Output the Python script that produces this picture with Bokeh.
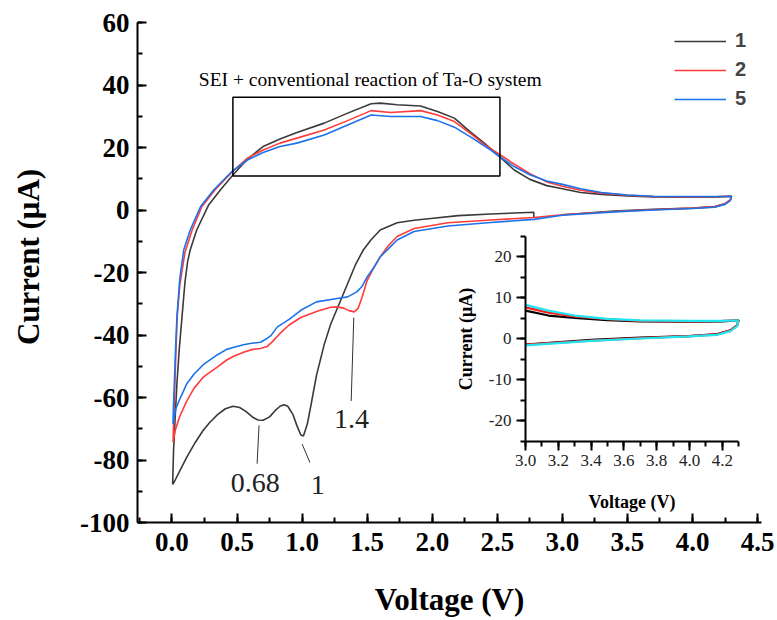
import math
from bokeh.plotting import figure
from bokeh.models import (Range1d, LinearAxis, SingleIntervalTicker, Legend, LegendItem,
                          Label, PrintfTickFormatter)
from bokeh.embed import file_html
from bokeh.resources import INLINE

# ---------------- data (voltage V, current uA) ----------------
cycle_labels = ["1", "2", "5"]

# cycle 1: starts at OCV (~2.78 V), cathodic to 0.01 V, anodic to 4.3 V, back to 3.0 V
v1 = [2.78, 2.78, 2.45, 2.20, 1.99, 1.86, 1.73, 1.60, 1.53, 1.47, 1.41, 1.35, 1.29, 1.22, 1.17,
      1.11, 1.07, 1.04, 1.01, 0.99, 0.96, 0.93, 0.89, 0.86, 0.83, 0.79, 0.75, 0.70, 0.66, 0.62,
      0.57, 0.52, 0.47, 0.41, 0.35, 0.29, 0.24, 0.18, 0.115, 0.06, 0.02, 0.005,
      0.012, 0.025, 0.038, 0.055, 0.077, 0.10, 0.12, 0.14, 0.19, 0.28, 0.37, 0.46, 0.58, 0.70,
      0.83, 0.96, 1.17, 1.35, 1.53, 1.60, 1.73, 1.91, 2.04, 2.17, 2.29, 2.40, 2.53, 2.63, 2.75,
      2.88, 3.0, 3.14, 3.3, 3.5, 3.7, 4.0, 4.2, 4.3,
      4.29, 4.25, 4.17, 4.0, 3.7, 3.4, 3.0]
i1 = [-2.4, -0.7, -1.3, -1.8, -2.7, -3.3, -4.1, -6.4, -9.5, -12.8, -17.5, -23.5, -29.5, -36.5, -43.0,
      -53.0, -62.0, -68.5, -72.3, -72.0, -69.0, -65.5, -62.8, -62.3, -62.8, -64.3, -66.2, -67.3, -67.2, -66.3,
      -64.5, -63.2, -62.8, -63.6, -65.5, -68.0, -70.5, -74.3, -79.0, -83.5, -86.8, -87.8,
      -77.0, -66.0, -55.5, -45.0, -34.2, -23.0, -16.5, -12.8, -6.4, 1.5, 6.3, 10.8, 16.3, 20.3,
      22.7, 24.8, 27.8, 31.0, 34.0, 34.2, 33.7, 33.3, 31.5, 29.4, 25.1, 21.4, 16.6, 12.8, 9.8,
      7.8, 6.8, 5.6, 5.0, 4.5, 4.2, 4.1, 4.2, 4.4,
      3.2, 2.0, 1.1, 0.6, 0.2, -0.3, -1.5]

# cycle 2: 4.3 V -> 0.01 V -> 4.3 V
v2 = [4.3, 4.29, 4.25, 4.17, 4.0, 3.7, 3.4, 3.0, 2.78, 2.45, 2.12, 1.86, 1.73, 1.66, 1.60, 1.55,
      1.50, 1.46, 1.43, 1.40, 1.36, 1.32, 1.27, 1.22, 1.12, 0.99, 0.90, 0.83, 0.77, 0.73, 0.68,
      0.62, 0.55, 0.47, 0.42, 0.35, 0.24, 0.17, 0.115, 0.06, 0.025, 0.008,
      0.018, 0.028, 0.04, 0.06, 0.10, 0.155, 0.23, 0.33, 0.46, 0.58, 0.70, 0.83, 0.96, 1.17,
      1.35, 1.53, 1.68, 1.91, 2.04, 2.17, 2.29, 2.40, 2.50, 2.60, 2.75, 2.88, 3.0, 3.14, 3.3,
      3.5, 3.7, 4.0, 4.2, 4.3]
i2 = [4.4, 3.2, 2.0, 1.0, 0.6, 0.1, -0.5, -1.5, -2.4, -3.2, -4.1, -5.9, -8.5, -11.5, -15.0, -18.5,
      -22.5, -28.0, -31.5, -32.6, -32.2, -31.4, -31.0, -31.1, -32.3, -34.4, -36.8, -39.5, -42.2, -43.7, -44.3,
      -44.6, -45.5, -46.9, -48.0, -50.2, -53.5, -57.0, -61.0, -66.0, -70.5, -74.3,
      -62.0, -48.0, -34.2, -24.0, -13.5, -6.4, 1.1, 6.4, 12.1, 16.6, 19.2, 21.4, 23.0, 25.6,
      28.6, 31.8, 31.2, 31.8, 30.4, 28.3, 24.6, 21.0, 18.3, 15.5, 11.6, 9.0, 7.6, 6.3, 5.4,
      4.7, 4.3, 4.2, 4.3, 4.4]

# cycle 5: 4.3 V -> 0.01 V -> 4.3 V
v5 = [4.3, 4.29, 4.25, 4.17, 4.0, 3.7, 3.4, 3.0, 2.78, 2.45, 2.12, 1.86, 1.73, 1.66, 1.60, 1.55,
      1.50, 1.46, 1.42, 1.35, 1.27, 1.11, 0.99, 0.90, 0.81, 0.76, 0.73, 0.68, 0.60, 0.55, 0.47,
      0.42, 0.35, 0.24, 0.17, 0.115, 0.06, 0.03, 0.008,
      0.012, 0.018, 0.028, 0.038, 0.06, 0.09, 0.14, 0.22, 0.32, 0.46, 0.58, 0.70, 0.83, 0.96,
      1.17, 1.35, 1.53, 1.68, 1.91, 2.04, 2.17, 2.29, 2.45, 2.50, 2.63, 2.75, 2.88, 3.0, 3.14,
      3.3, 3.5, 3.7, 4.0, 4.2, 4.3]
i5 = [4.4, 3.0, 1.8, 0.9, 0.5, 0.0, -0.6, -1.7, -3.0, -4.0, -5.1, -6.9, -9.6, -12.5, -15.0, -18.5,
      -21.4, -24.5, -26.2, -27.8, -28.3, -29.4, -32.1, -35.0, -37.4, -40.2, -41.1, -42.3, -42.7, -43.1, -44.0,
      -44.6, -46.3, -49.5, -52.5, -55.5, -60.5, -63.5, -68.4,
      -62.0, -55.5, -44.0, -34.2, -22.0, -12.8, -6.4, 1.1, 6.4, 12.3, 16.0, 18.4, 20.3, 21.4,
      24.0, 27.2, 30.4, 29.9, 29.9, 28.6, 26.5, 23.5, 19.2, 17.6, 13.9, 11.3, 9.3, 8.2, 6.8,
      5.6, 4.8, 4.4, 4.3, 4.3, 4.4]

# annotations
peak_labels = ["0.68", "1", "1.4"]
box_title = "SEI + conventional reaction of Ta-O system"

main_colors = ["#3a3a3a", "#ff3b3b", "#1a73e8"]
inset_colors = ["#000000", "#ff1a1a", "#1fe5f0"]

SERIF = "Liberation Serif"

p = figure(width=777, height=620, output_backend="svg", toolbar_location=None,
           x_range=Range1d(-0.265, 4.53), y_range=Range1d(-100, 60),
           min_border_left=137, min_border_right=16, min_border_top=22, min_border_bottom=98)
p.outline_line_color = None
p.grid.visible = False
p.background_fill_color = "white"
p.border_fill_color = "white"

for ax in (p.xaxis[0], p.yaxis[0]):
    ax.major_tick_in = 9
    ax.major_tick_out = 0
    ax.minor_tick_in = 5
    ax.minor_tick_out = 0
    ax.axis_line_width = 2
    ax.major_tick_line_width = 2
    ax.minor_tick_line_width = 2
    ax.axis_line_color = "black"
    ax.major_tick_line_color = "black"
    ax.minor_tick_line_color = "black"
    ax.major_label_text_font = SERIF
    ax.major_label_text_font_style = "bold"
    ax.major_label_text_font_size = "27px"
    ax.major_label_text_color = "black"
    ax.axis_label_text_font = SERIF
    ax.axis_label_text_font_style = "bold"
    ax.axis_label_text_font_size = "31px"
    ax.axis_label_text_color = "black"
    ax.major_label_standoff = 8

p.xaxis[0].ticker = SingleIntervalTicker(interval=0.5, num_minor_ticks=2)
p.xaxis[0].formatter = PrintfTickFormatter(format="%.1f")
p.xaxis[0].axis_label = "Voltage (V)"
p.xaxis[0].major_label_standoff = 10
p.xaxis[0].axis_label_standoff = 28
p.yaxis[0].ticker = SingleIntervalTicker(interval=20, num_minor_ticks=2)
p.yaxis[0].formatter = PrintfTickFormatter(format="%d")
p.yaxis[0].axis_label = "\u00a0\u00a0\u00a0\u00a0Current (\u03bcA)"
p.yaxis[0].axis_label_standoff = 31

# ---------------- main curves ----------------
series = [(v1, i1), (v2, i2), (v5, i5)]
renderers = []
for (vv, ii), c in zip(series, main_colors):
    renderers.append(p.line(vv, ii, line_color=c, line_width=1.6))

# box + title
p.quad(left=0.468, right=2.52, bottom=10.9, top=36.1, fill_color=None, line_color="black", line_width=1.5)
p.add_layout(Label(x=1.525, y=41.7, text=box_title, text_font=SERIF, text_font_size="19.5px",
                   text_align="center", text_baseline="middle", text_color="black"))

# peak markers (leader lines + labels)
lead_x0 = [0.669, 1.0, 1.397]
lead_y0 = [-68.9, -74.9, -34.4]
lead_x1 = [0.654, 1.06, 1.377]
lead_y1 = [-81.2, -80.8, -61.1]
lab_x = [0.64, 1.12, 1.38]
lab_y = [-87.5, -88.0, -66.8]
p.segment(lead_x0, lead_y0, lead_x1, lead_y1, line_color="#333333", line_width=1)
for t, x, y in zip(peak_labels, lab_x, lab_y):
    p.add_layout(Label(x=x, y=y, text=t, text_font=SERIF, text_font_size="28px",
                       text_align="center", text_baseline="middle", text_color="#222222"))

legend = Legend(items=[LegendItem(label=l, renderers=[r]) for l, r in zip(cycle_labels, renderers)],
                location=(537, 412), border_line_color=None, background_fill_alpha=0,
                label_text_font="Liberation Sans", label_text_font_style="bold",
                label_text_font_size="20px", glyph_width=52, glyph_height=20,
                label_standoff=9, spacing=6, padding=0, margin=0)
p.add_layout(legend)

# ---------------- inset ----------------
# inset occupies px x 525..738 (3.0..4.3 V) and y 235..441 (25..-25 uA) of the canvas
fx0, fx1, fy0, fy1 = 137, 761, 22, 522
sx = 164.0
sy = 4.1
ix_start = 3.0 - (525 - fx0) / sx
ix_end = ix_start + (fx1 - fx0) / sx
iy_end = (338 - fy0) / sy
iy_start = -(fy1 - 338) / sy
p.extra_x_ranges = {"ix": Range1d(ix_start, ix_end)}
p.extra_y_ranges = {"iy": Range1d(iy_start, iy_end)}


def clip_part(vv, ii, lo=3.0):
    xs, ys = [], []
    prev_in = False
    for a, b in zip(vv, ii):
        inside = a >= lo - 1e-9
        if inside:
            xs.append(a)
            ys.append(b)
        elif prev_in:
            xs.append(float("nan"))
            ys.append(float("nan"))
        prev_in = inside
    return xs, ys


for (vv, ii), c in zip(series, inset_colors):
    xs, ys = clip_part(vv, ii)
    p.line(xs, ys, line_color=c, line_width=2.2, x_range_name="ix", y_range_name="iy")

ixa = LinearAxis(x_range_name="ix", y_range_name="iy", fixed_location=-25, bounds=(3.0, 4.3),
                 ticker=SingleIntervalTicker(interval=0.2, num_minor_ticks=2),
                 formatter=PrintfTickFormatter(format="%.1f"), axis_label="Voltage (V)")
iya = LinearAxis(x_range_name="ix", y_range_name="iy", fixed_location=3.0, bounds=(-25, 25),
                 ticker=SingleIntervalTicker(interval=10, num_minor_ticks=2),
                 formatter=PrintfTickFormatter(format="%d"), axis_label="Current (\u03bcA)")
for ax in (ixa, iya):
    ax.major_tick_in = 0
    ax.major_tick_out = 9
    ax.minor_tick_in = 0
    ax.minor_tick_out = 5
    ax.axis_line_width = 2
    ax.major_tick_line_width = 2
    ax.minor_tick_line_width = 2
    ax.major_label_text_font = SERIF
    ax.major_label_text_font_size = "17px"
    ax.major_label_text_color = "#222222"
    ax.major_label_standoff = 5
    ax.axis_label_text_font = SERIF
    ax.axis_label_text_font_style = "bold"
    ax.axis_label_text_font_size = "18px"
    ax.axis_label_text_color = "black"
ixa.axis_label_standoff = 22
iya.axis_label_standoff = 10
p.add_layout(ixa, "below")
p.add_layout(iya, "left")

open("out.html", "w").write(file_html(p, INLINE))
